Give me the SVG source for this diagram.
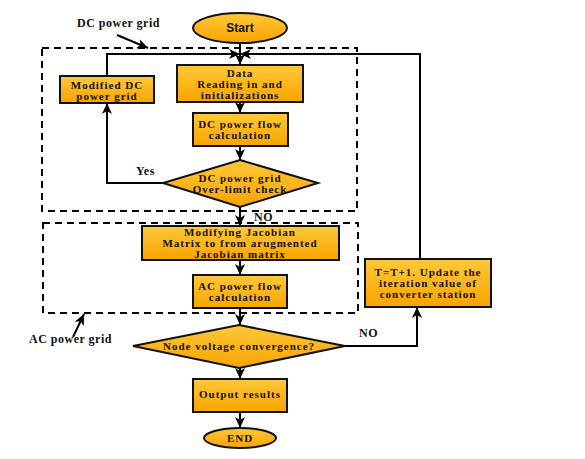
<svg xmlns="http://www.w3.org/2000/svg" width="585" height="459" viewBox="0 0 585 459">
<defs>
<linearGradient id="g" x1="0" y1="0" x2="0" y2="1">
<stop offset="0" stop-color="#FFC83A"/>
<stop offset="1" stop-color="#F7A400"/>
</linearGradient>
<marker id="ah" markerUnits="userSpaceOnUse" markerWidth="12" markerHeight="10" refX="11" refY="5" orient="auto">
<path d="M0,0 L11,5 L0,10 L3,5 z" fill="#000"/>
</marker>
</defs>
<style>
.box{fill:url(#g);stroke:#111;stroke-width:2}
.t{font-family:'Liberation Serif','DejaVu Serif',serif;font-weight:bold;font-size:11px;letter-spacing:1px;text-anchor:middle;fill:#111}
.lab{font-family:'Liberation Serif','DejaVu Serif',serif;font-weight:bold;font-size:12px;letter-spacing:0.5px;fill:#111}
.c{fill:none;stroke:#000;stroke-width:2}
.d{fill:none;stroke:#000;stroke-width:2;stroke-dasharray:7,5}
</style>
<rect width="585" height="459" fill="#fff"/>
<g id="regions">
<rect class="d" x="42" y="48" width="315" height="163"/>
<rect class="d" x="43" y="223" width="315" height="90"/>
<text class="lab" x="77" y="27">DC power grid</text>
<text class="lab" x="29" y="343">AC power grid</text>
</g>
<g id="connectors">
<path class="c" d="M240,43 V65" marker-end="url(#ah)"/>
<path class="c" d="M107,76 V54 H240" marker-end="url(#ah)"/>
<path class="c" d="M420,259 V54 H240" marker-end="url(#ah)"/>
<path class="c" d="M240,102 V113" marker-end="url(#ah)"/>
<path class="c" d="M240,146 V160" marker-end="url(#ah)"/>
<path class="c" d="M163,183 H107 V103" marker-end="url(#ah)"/>
<path class="c" d="M240,207 V226" marker-end="url(#ah)"/>
<path class="c" d="M240,260 V275" marker-end="url(#ah)"/>
<path class="c" d="M240,308 V325" marker-end="url(#ah)"/>
<path class="c" d="M345,346 H417 V307" marker-end="url(#ah)"/>
<path class="c" d="M240,368 V379" marker-end="url(#ah)"/>
<path class="c" d="M240,412 V428" marker-end="url(#ah)"/>
<path class="c" d="M117,35 L148,48" marker-end="url(#ah)"/>
<path class="c" d="M73,337 L84,314" marker-end="url(#ah)"/>
<text class="lab" x="136" y="175">Yes</text>
<text class="lab" x="254" y="221">NO</text>
<text class="lab" x="359" y="337">NO</text>
</g>
<g id="start">
<ellipse class="box" cx="240" cy="28" rx="47" ry="15"/>
<text x="240" y="32" text-anchor="middle" font-family="'Liberation Sans',Arial,sans-serif" font-weight="bold" font-size="12" fill="#111">Start</text>
</g>
<g id="data">
<rect class="box" x="177" y="65" width="126" height="37"/>
<text class="t" x="240" y="77">Data</text>
<text class="t" x="240" y="88">Reading in and</text>
<text class="t" x="240" y="99">initializations</text>
</g>
<g id="modified">
<rect class="box" x="60" y="76" width="94" height="27"/>
<text class="t" x="107" y="89">Modified DC</text>
<text class="t" x="107" y="100">power grid</text>
</g>
<g id="dcflow">
<rect class="box" x="193" y="113" width="95" height="33"/>
<text class="t" x="240" y="128">DC power flow</text>
<text class="t" x="240" y="139">calculation</text>
</g>
<g id="dccheck">
<polygon class="box" points="240,160 318,183 240,207 163,183"/>
<text class="t" x="240" y="182">DC power grid</text>
<text class="t" x="240" y="193">Over-limit check</text>
</g>
<g id="jacobian">
<rect class="box" x="142" y="226" width="197" height="34"/>
<text class="t" x="240" y="236">Modifying Jacobian</text>
<text class="t" x="240" y="247">Matrix to from arugmented</text>
<text class="t" x="240" y="258">Jacobian matrix</text>
</g>
<g id="acflow">
<rect class="box" x="193" y="275" width="94" height="33"/>
<text class="t" x="240" y="290">AC power flow</text>
<text class="t" x="240" y="301">calculation</text>
</g>
<g id="convergence">
<polygon class="box" points="239,325 345,346 239,368 133,346"/>
<text class="t" x="239" y="350">Node voltage convergence?</text>
</g>
<g id="update">
<rect class="box" x="365" y="259" width="126" height="48"/>
<text class="t" x="428" y="276">T=T+1. Update the</text>
<text class="t" x="428" y="287">iteration value of</text>
<text class="t" x="428" y="298">converter station</text>
</g>
<g id="output">
<rect class="box" x="193" y="379" width="94" height="33"/>
<text class="t" x="240" y="398">Output results</text>
</g>
<g id="end">
<ellipse class="box" cx="240" cy="438" rx="36" ry="10"/>
<text class="t" x="240" y="442" font-size="12">END</text>
</g>
</svg>
